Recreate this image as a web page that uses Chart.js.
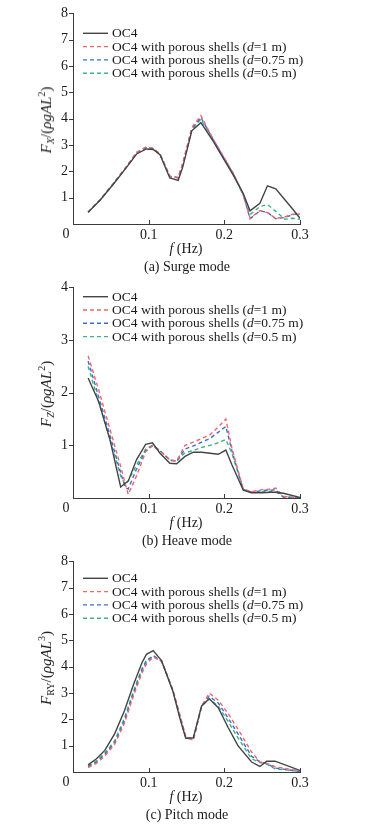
<!DOCTYPE html>
<html lang="en">
<head>
<meta charset="UTF-8">
<title>Wave force RAO</title>
<script src="https://cdn.jsdelivr.net/npm/chart.js"></script>
<style>
  body { margin: 0; background: #fff; width: 385px; height: 824px; overflow: hidden; font-family: "Liberation Serif", serif; color: #1a1a1a; }
  .panel { position: absolute; left: 0; width: 385px; height: 276px; }
  .panel canvas { position: absolute; left: 0; top: 0; }
  .ytitle { position: absolute; left: 46px; top: 120px; transform: translate(-50%, -50%) rotate(-90deg); white-space: nowrap; font-size: 15px; }
  .ytitle sub { font-size: 10px; vertical-align: -3px; }
  .ytitle sup { font-size: 10px; vertical-align: 6px; }
  .xtitle { position: absolute; left: 186px; top: 249px; transform: translate(-50%, -50%); white-space: nowrap; font-size: 14px; }
  .cap { position: absolute; left: 187px; top: 267px; transform: translate(-50%, -50%); white-space: nowrap; font-size: 14px; }
</style>
</head>
<body>
<div class="panel" style="top:0px">
  <canvas id="surge" width="385" height="276"></canvas>
  <div class="ytitle"><i>F</i><sub><i>X</i></sub>/(<i>ρgAL</i><sup>2</sup>)</div>
  <div class="xtitle"><i>f</i> (Hz)</div>
  <div class="cap">(a) Surge mode</div>
</div>
<div class="panel" style="top:274px">
  <canvas id="heave" width="385" height="276"></canvas>
  <div class="ytitle"><i>F</i><sub><i>Z</i></sub>/(<i>ρgAL</i><sup>2</sup>)</div>
  <div class="xtitle"><i>f</i> (Hz)</div>
  <div class="cap">(b) Heave mode</div>
</div>
<div class="panel" style="top:548px">
  <canvas id="pitch" width="385" height="276"></canvas>
  <div class="ytitle"><i>F</i><sub>RY</sub>/(<i>ρgAL</i><sup>3</sup>)</div>
  <div class="xtitle"><i>f</i> (Hz)</div>
  <div class="cap">(c) Pitch mode</div>
</div>
<script>
// series names
const seriesLabels = ['OC4', 'OC4 with porous shells (d=1 m)', 'OC4 with porous shells (d=0.75 m)', 'OC4 with porous shells (d=0.5 m)'];

// (a) surge
const surgeFreq = [0.020, 0.036, 0.053, 0.071, 0.084, 0.097, 0.106, 0.115, 0.128, 0.139, 0.145, 0.157, 0.169, 0.185, 0.212, 0.225, 0.234, 0.247, 0.257, 0.268, 0.280, 0.290, 0.300];
const surgeOC4  = [0.45, 0.91, 1.50, 2.16, 2.66, 2.85, 2.83, 2.63, 1.75, 1.66, 2.16, 3.54, 3.85, 3.16, 1.85, 1.16, 0.50, 0.79, 1.45, 1.34, 0.92, 0.58, 0.22];
const surgeD100 = [0.45, 0.92, 1.52, 2.20, 2.72, 2.93, 2.88, 2.66, 1.82, 1.77, 2.30, 3.66, 4.12, 3.24, 1.92, 1.12, 0.22, 0.51, 0.43, 0.21, 0.27, 0.37, 0.38];
const surgeD075 = [0.45, 0.92, 1.52, 2.19, 2.71, 2.92, 2.87, 2.65, 1.81, 1.76, 2.28, 3.62, 4.05, 3.22, 1.90, 1.12, 0.20, 0.50, 0.44, 0.20, 0.25, 0.35, 0.40];
const surgeD050 = [0.45, 0.92, 1.51, 2.18, 2.70, 2.90, 2.86, 2.64, 1.80, 1.75, 2.25, 3.58, 3.98, 3.20, 1.88, 1.10, 0.36, 0.66, 0.74, 0.48, 0.18, 0.22, 0.18];

// (b) heave
const heaveFreq = [0.020, 0.034, 0.049, 0.063, 0.069, 0.073, 0.084, 0.096, 0.105, 0.115, 0.128, 0.137, 0.148, 0.159, 0.170, 0.181, 0.192, 0.202, 0.210, 0.225, 0.236, 0.250, 0.262, 0.268, 0.278, 0.300];
const heaveOC4  = [2.28, 1.83, 1.10, 0.21, 0.28, 0.32, 0.73, 1.02, 1.05, 0.85, 0.66, 0.65, 0.79, 0.87, 0.87, 0.85, 0.83, 0.91, 0.63, 0.15, 0.10, 0.10, 0.11, 0.11, 0.09, 0.01];
const heaveD100 = [2.70, 2.05, 1.30, 0.60, 0.27, 0.07, 0.42, 0.88, 0.99, 0.90, 0.72, 0.70, 1.00, 1.06, 1.13, 1.20, 1.35, 1.50, 0.95, 0.17, 0.12, 0.16, 0.17, 0.19, 0.03, 0.00];
const heaveD075 = [2.60, 1.92, 1.18, 0.48, 0.20, 0.17, 0.55, 0.90, 1.00, 0.90, 0.72, 0.70, 0.93, 0.99, 1.06, 1.13, 1.25, 1.36, 0.90, 0.16, 0.11, 0.14, 0.15, 0.16, 0.02, 0.00];
const heaveD050 = [2.50, 1.82, 1.10, 0.42, 0.26, 0.33, 0.62, 0.93, 1.00, 0.90, 0.72, 0.70, 0.86, 0.90, 0.96, 1.00, 1.05, 1.11, 0.85, 0.16, 0.10, 0.12, 0.13, 0.12, 0.02, 0.00];

// (c) pitch
const pitchFreq = [0.020, 0.031, 0.042, 0.055, 0.068, 0.080, 0.091, 0.097, 0.106, 0.117, 0.132, 0.141, 0.149, 0.159, 0.170, 0.180, 0.192, 0.205, 0.218, 0.236, 0.247, 0.256, 0.267, 0.300];
const pitchOC4  = [0.27, 0.50, 0.82, 1.45, 2.33, 3.32, 4.14, 4.47, 4.61, 4.23, 3.07, 2.07, 1.28, 1.30, 2.51, 2.78, 2.44, 1.69, 1.00, 0.38, 0.21, 0.41, 0.41, 0.06];
const pitchD100 = [0.17, 0.33, 0.60, 1.05, 1.85, 2.90, 3.75, 4.10, 4.37, 4.20, 3.12, 2.20, 1.35, 1.20, 2.50, 3.00, 2.73, 2.22, 1.63, 0.76, 0.38, 0.33, 0.20, 0.04];
const pitchD075 = [0.20, 0.38, 0.66, 1.12, 1.95, 3.00, 3.85, 4.20, 4.42, 4.22, 3.10, 2.15, 1.32, 1.25, 2.52, 2.88, 2.62, 2.05, 1.45, 0.60, 0.38, 0.32, 0.15, 0.02];
const pitchD050 = [0.22, 0.42, 0.72, 1.18, 2.05, 3.08, 3.92, 4.25, 4.40, 4.21, 3.10, 2.12, 1.30, 1.22, 2.50, 2.78, 2.50, 1.92, 1.30, 0.50, 0.36, 0.30, 0.12, 0.02];

const FONT = '"Liberation Serif", "Times New Roman", serif';
const INK = '#1a1a1a';
const AXIS = '#3a3a3a';
const styles = [
  { color: '#444444', dash: [], width: 1.4 },
  { color: '#f2666a', dash: [4, 3], width: 1.4 },
  { color: '#3b6dd0', dash: [4, 3], width: 1.4 },
  { color: '#3db384', dash: [4, 3], width: 1.4 }
];

// ticks drawn inward on x, outward on y; "0" at the corner; legend inside plot
const decor = {
  id: 'decor',
  afterDraw(chart, args, opts) {
    const ctx = chart.ctx;
    const xs = chart.scales.x, ys = chart.scales.y;
    ctx.save();
    ctx.strokeStyle = AXIS;
    ctx.lineWidth = 1;
    ctx.beginPath();
    xs.ticks.forEach(t => {
      if (t.value === 0) return;
      const px = Math.round(xs.getPixelForValue(t.value)) + 0.5;
      ctx.moveTo(px, ys.bottom);
      ctx.lineTo(px, ys.bottom - 4);
    });
    ys.ticks.forEach(t => {
      if (t.value === 0) return;
      const py = Math.round(ys.getPixelForValue(t.value)) + 0.5;
      ctx.moveTo(xs.left - 4, py);
      ctx.lineTo(xs.left, py);
    });
    ctx.stroke();

    ctx.fillStyle = INK;
    ctx.font = '14px ' + FONT;
    ctx.textAlign = 'center';
    ctx.textBaseline = 'middle';
    ctx.fillText('0', xs.left - 7, ys.bottom + 10);

    // legend
    ctx.textAlign = 'left';
    chart.data.datasets.forEach((ds, i) => {
      const y = opts.top + i * 13.3;
      ctx.beginPath();
      ctx.strokeStyle = ds.borderColor;
      ctx.lineWidth = ds.borderWidth;
      ctx.setLineDash(ds.borderDash || []);
      ctx.moveTo(83, y);
      ctx.lineTo(108, y);
      ctx.stroke();
      ctx.setLineDash([]);
      let x = 112;
      const m = ds.label.match(/^(.*\()d(=.*)$/);
      const parts = m ? [[m[1], ''], ['d', 'italic '], [m[2], '']] : [[ds.label, '']];
      parts.forEach(([s, st]) => {
        ctx.font = st + '13.5px ' + FONT;
        ctx.fillText(s, x, y + 0.5);
        x += ctx.measureText(s).width;
      });
    });
    ctx.restore();
  }
};

function makeChart(id, freq, series, yMax, legendTop) {
  const datasets = series.map((vals, i) => ({
    label: seriesLabels[i],
    data: freq.map((f, j) => ({ x: f, y: vals[j] })),
    borderColor: styles[i].color,
    borderDash: styles[i].dash,
    borderWidth: styles[i].width,
    pointRadius: 0,
    tension: 0,
    fill: false,
    order: i === 0 ? 0 : 1
  }));
  return new Chart(document.getElementById(id), {
    type: 'line',
    data: { datasets },
    options: {
      responsive: false,
      animation: false,
      layout: { padding: { top: 11, right: 85, left: 0, bottom: 0 } },
      plugins: { legend: { display: false }, tooltip: { enabled: false }, decor: { top: legendTop } },
      scales: {
        x: {
          type: 'linear', min: 0, max: 0.3,
          grid: { display: false, drawTicks: false },
          border: { color: AXIS, width: 1 },
          ticks: { stepSize: 0.1, padding: 3, color: INK, font: { family: FONT, size: 14 },
                   callback: v => (Math.abs(v) < 1e-9 ? '' : v.toFixed(1)) },
          afterFit: s => { s.height = 52; }
        },
        y: {
          min: 0, max: yMax,
          grid: { display: false, drawTicks: false },
          border: { color: AXIS, width: 1 },
          ticks: { stepSize: 1, padding: 5, color: INK, font: { family: FONT, size: 14 },
                   callback: v => (v === 0 ? '' : String(v)) },
          afterFit: s => { s.width = 73; }
        }
      }
    },
    plugins: [decor]
  });
}

makeChart('surge', surgeFreq, [surgeOC4, surgeD100, surgeD075, surgeD050], 8, 33.3);
makeChart('heave', heaveFreq, [heaveOC4, heaveD100, heaveD075, heaveD050], 4, 22.7);
makeChart('pitch', pitchFreq, [pitchOC4, pitchD100, pitchD075, pitchD050], 8, 30.3);
</script>
</body>
</html>
